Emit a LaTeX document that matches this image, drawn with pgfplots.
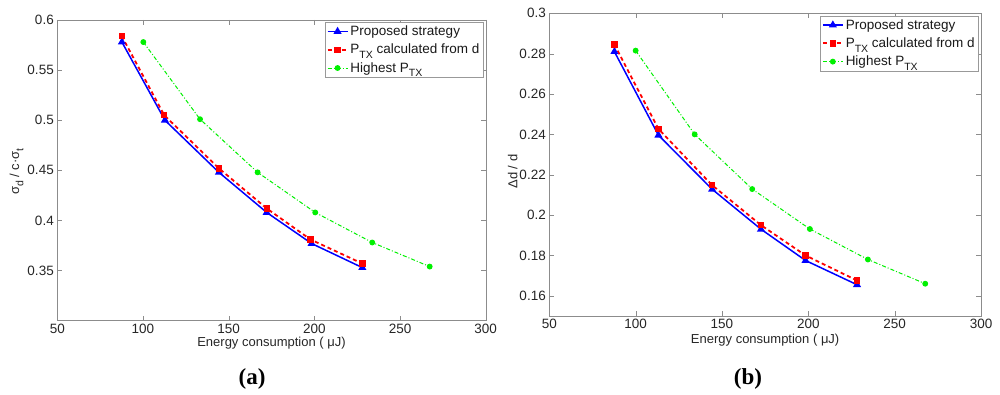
\documentclass[border=0pt]{standalone}
\usepackage{fontspec}
\setmainfont{Liberation Sans}
\newfontfamily\capfont{Liberation Serif}
\usepackage{pgfplots}
\pgfplotsset{compat=1.18}
\newcommand\sub[1]{\raisebox{-0.65ex}{\fontsize{10.5}{10.5}\selectfont #1}}
\definecolor{mblue}{RGB}{0,0,255}
\definecolor{mred}{RGB}{255,0,0}
\definecolor{mgreen}{RGB}{0,240,0}
\pgfplotsset{
  mystyle/.style={
    scale only axis, anchor=south west,
    xmin=50, xmax=300, xtick={50,100,...,300},
    axis line style={gray!90}, tick style={gray!90},
    tick align=inside, major tick length=5pt,
    ticklabel style={font=\fontsize{13.5}{13.5}\selectfont, text=black!85},
    /pgf/number format/assume math mode=true,
    yticklabel style={/pgf/number format/fixed, /pgf/number format/precision=2},
    xticklabel style={/pgf/number format/fixed},
    xlabel={Energy consumption ( μJ)},
    label style={font=\fontsize{13}{13}\selectfont, text=black!85},
    legend cell align=left,
    legend style={draw=gray!80, fill=white, font=\fontsize{13.5}{13.5}\selectfont,
      text=black!90, anchor=north east, inner sep=1.5pt,
      row sep=3pt, /tikz/every even column/.append style={column sep=2pt}},
    legend image code/.code={
      \draw[mark repeat=2,mark phase=2] plot coordinates {(0pt,0pt) (10pt,0pt) (20pt,0pt)};},
  },
  sblue/.style={color=mblue, line width=1.5pt, mark=triangle*, mark size=3.2pt, mark options={solid}},
  sred/.style={color=mred, line width=1.8pt, dash pattern=on 4pt off 3pt, mark=square*, mark size=2.3pt, mark options={solid}},
  sgreen/.style={color=mgreen, line width=1pt, dash pattern=on 4pt off 2pt on 1pt off 2pt, mark=*, mark size=2.4pt, mark options={solid}},
}
\begin{document}
\begin{tikzpicture}[x=1pt,y=1pt]
\useasboundingbox (0,0) rectangle (1000,395);
% ---------- (a) ----------
\begin{axis}[mystyle, at={(57.3pt,74.3pt)}, width=428.4pt, height=300.7pt,
  ymin=0.3, ymax=0.6, ytick={0.35,0.4,...,0.61},
  xlabel style={at={(axis description cs:0.5,0)}, anchor=center, yshift=-22.5pt},
  ylabel={σ\sub{d} / c·σ\sub{t}},
  ylabel style={at={(axis description cs:-0.095,0.4955)}, anchor=center, rotate=0},
  legend style={at={(axis description cs:0.994,0.993)}}]
\addplot[sblue] coordinates {(87.7,0.578) (112.8,0.500) (144.3,0.448) (172.2,0.408) (198.4,0.377) (228,0.353)};
\addplot[sred] coordinates {(87.6,0.584) (112.4,0.505) (144.3,0.452) (172.2,0.412) (197.8,0.381) (228,0.357)};
\addplot[sgreen] coordinates {(100.2,0.578) (133.3,0.501) (166.9,0.448) (200.5,0.408) (233.8,0.378) (267.3,0.354)};
\legend{Proposed strategy, P\sub{TX} calculated from d, Highest P\sub{TX}}
\end{axis}
% ---------- (b) ----------
\begin{axis}[mystyle, at={(549.3pt,79pt)}, width=431.7pt, height=302.7pt,
  ymin=0.15, ymax=0.3, ytick={0.16,0.18,...,0.301},
  xlabel style={at={(axis description cs:0.5,0)}, anchor=center, yshift=-24pt},
  ylabel={Δd / d},
  ylabel style={at={(axis description cs:-0.085,0.477)}, anchor=center, rotate=0},
  legend style={at={(axis description cs:0.994,0.992)}}]
\addplot[sblue] coordinates {(87.7,0.281) (113.2,0.2396) (144.3,0.2128) (172.6,0.193) (198.4,0.1775) (228.2,0.1655)};
\addplot[sred] coordinates {(87.7,0.2845) (113.2,0.2427) (144.3,0.2148) (172.6,0.195) (198.4,0.180) (228.2,0.1676)};
\addplot[sgreen] coordinates {(100,0.2815) (134.2,0.240) (167.5,0.2129) (200.9,0.1931) (234.5,0.178) (267.7,0.166)};
\legend{Proposed strategy, P\sub{TX} calculated from d, Highest P\sub{TX}}
\end{axis}
\node[font=\capfont\bfseries\fontsize{23}{23}\selectfont] at (252,16) {(a)};
\node[font=\capfont\bfseries\fontsize{23}{23}\selectfont] at (748,16) {(b)};
\end{tikzpicture}
\end{document}
